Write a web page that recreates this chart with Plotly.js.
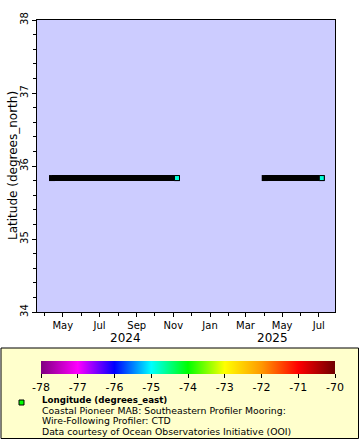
<!DOCTYPE html>
<html>
<head>
<meta charset="utf-8">
<script src="https://cdn.plot.ly/plotly-3.0.1.min.js"></script>
<style>html,body{margin:0;padding:0;background:#fff;}#chart{width:360px;height:440px;}</style>
</head>
<body>
<div id="chart"></div>
<script>
// ---- data ----
const deployStart = ['2024-04-13', '2025-04-02'];
const deployEnd = ['2024-11-07', '2025-07-06'];
const latitude = [35.835, 35.835];
const longitude = [-74.85, -74.85];
const monthTickVals = ['2024-05-01', '2024-07-01', '2024-09-01', '2024-11-01', '2025-01-01', '2025-03-01', '2025-05-01', '2025-07-01'];
const monthTickText = ['May', 'Jul', 'Sep', 'Nov', 'Jan', 'Mar', 'May', 'Jul'];
const yearLabels = ['2024', '2025'];
const yearLabelDates = ['2024-08-13', '2025-04-15'];
const cbTickVals = [-78, -77, -76, -75, -74, -73, -72, -71, -70];
const cbTickText = ['-78', '-77', '-76', '-75', '-74', '-73', '-72', '-71', '-70'];
const yTitle = 'Latitude (degrees_north)';
const legendLines = [
  '<b>Longitude (degrees_east)</b>',
  'Coastal Pioneer MAB: Southeastern Profiler Mooring:',
  'Wire-Following Profiler: CTD',
  'Data courtesy of Ocean Observatories Initiative (OOI)'
];

// ---- layout geometry ----
const W = 360, H = 440;
const M = {l: 37, r: 25, t: 20, b: 128};
const pw = W - M.l - M.r, ph = H - M.t - M.b;
const px = x => (x - M.l) / pw;
const py = y => (H - M.b - y) / ph;

const FONT = 'DejaVu Sans, Verdana, sans-serif';

// segment line built from deployment start/end
const segX = [], segY = [];
for (let i = 0; i < deployStart.length; i++) {
  segX.push(deployStart[i], deployEnd[i], null);
  segY.push(latitude[i], latitude[i], null);
}

const rainbow = [
  [0, '#800080'], [0.125, '#ff00ff'], [0.25, '#0000ff'], [0.375, '#00ffff'],
  [0.5, '#00ff00'], [0.625, '#ffff00'], [0.75, '#ff9900'], [0.875, '#ff0000'], [1, '#700000']
];

const traces = [
  {
    x: segX, y: segY, mode: 'lines+markers', type: 'scatter',
    line: {color: '#000', width: 6},
    marker: {symbol: 'square', size: 6, color: '#000'},
    hoverinfo: 'skip', showlegend: false
  },
  {
    x: deployEnd, y: latitude, mode: 'markers', type: 'scatter',
    marker: {
      symbol: 'square', size: 5, color: longitude,
      colorscale: rainbow, cmin: -78, cmax: -70,
      line: {color: '#000', width: 1},
      colorbar: {
        orientation: 'h', lenmode: 'pixels', len: 294, thickness: 13,
        x: px(188), xanchor: 'center', y: py(361), yanchor: 'top',
        xpad: 0, ypad: 0, outlinewidth: 0,
        tickmode: 'array', tickvals: cbTickVals, ticktext: cbTickText,
        ticks: 'outside', ticklen: 4, tickcolor: '#000',
        tickfont: {family: FONT, size: 11, color: '#000'}
      }
    },
    showlegend: false
  }
];

const annotations = [];
yearLabels.forEach((t, i) => annotations.push({
  text: t, x: yearLabelDates[i], xref: 'x', y: py(338), yref: 'paper',
  showarrow: false, xanchor: 'center', yanchor: 'middle',
  font: {family: FONT, size: 12, color: '#000'}
}));
annotations.push({
  text: yTitle, textangle: -90, x: px(13), xref: 'paper', y: 0.5, yref: 'paper',
  showarrow: false, xanchor: 'center', yanchor: 'middle',
  font: {family: FONT, size: 12, color: '#000'}
});
const lineY = [399.5, 410.1, 420.7, 431.3];
const lineSize = [8.7, 9.3, 9.3, 9.3];
legendLines.forEach((t, i) => annotations.push({
  text: t, x: px(40.5), xref: 'paper', y: py(lineY[i]), yref: 'paper',
  showarrow: false, xanchor: 'left', yanchor: 'middle', borderpad: 0,
  font: {family: FONT, size: lineSize[i], color: '#000'}
}));

const layout = {
  width: W, height: H, margin: M,
  paper_bgcolor: '#fff', plot_bgcolor: '#ccccff',
  font: {family: FONT, size: 10, color: '#000'},
  showlegend: false,
  xaxis: {
    type: 'date', range: ['2024-03-19', '2025-07-28'],
    tickmode: 'array', tickvals: monthTickVals, ticktext: monthTickText,
    ticks: 'outside', ticklen: 4, tickcolor: '#000', tickwidth: 1,
    minor: {dtick: 'M1', tick0: '2024-01-01', ticks: 'outside', ticklen: 3, tickcolor: '#000', showgrid: false},
    showline: true, linecolor: '#000', linewidth: 1, mirror: true,
    showgrid: false, zeroline: false, automargin: false,
    tickfont: {family: FONT, size: 10, color: '#000'}
  },
  yaxis: {
    range: [34, 38], tickmode: 'linear', tick0: 34, dtick: 1,
    ticks: 'outside', ticklen: 4, tickcolor: '#000',
    minor: {dtick: 0.2, ticks: 'outside', ticklen: 3, tickcolor: '#000', showgrid: false},
    tickangle: -90,
    showline: true, linecolor: '#000', linewidth: 1, mirror: true,
    showgrid: false, zeroline: false, automargin: false,
    tickfont: {family: FONT, size: 10, color: '#000'}
  },
  shapes: [
    {type: 'rect', xref: 'paper', yref: 'paper', layer: 'below',
     x0: px(1), x1: px(358.5), y0: py(348), y1: py(438.5),
     fillcolor: '#ffffcc', line: {color: '#000', width: 1}},
    {type: 'rect', xref: 'paper', yref: 'paper',
     x0: px(19), x1: px(24), y0: py(400), y1: py(405),
     fillcolor: '#00ff00', line: {color: '#000', width: 1}}
  ],
  annotations: annotations
};

Plotly.newPlot('chart', traces, layout, {displayModeBar: false, staticPlot: true});
</script>
</body>
</html>
